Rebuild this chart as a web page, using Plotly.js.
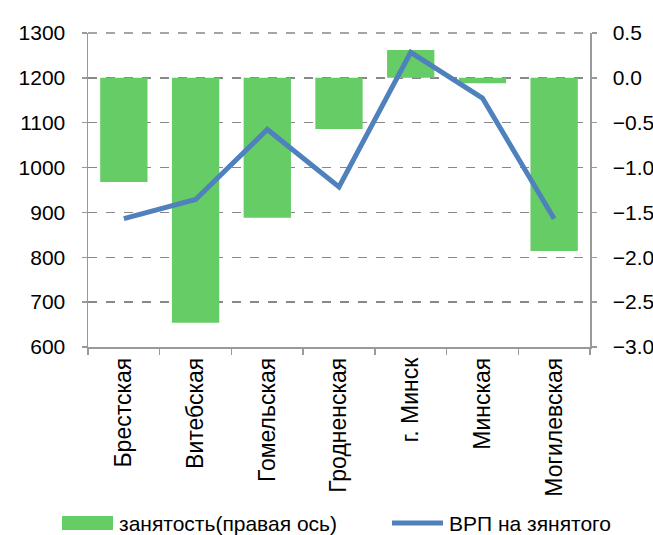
<!DOCTYPE html>
<html>
<head>
<meta charset="utf-8">
<script src="https://cdn.plot.ly/plotly-3.0.1.min.js"></script>
<style>html,body{margin:0;padding:0;background:#fff;}#chart{width:653px;height:535px;}</style>
</head>
<body>
<div id="chart"></div>
<script>
const categories = ["Брестская", "Витебская", "Гомельская", "Гродненская", "г. Минск", "Минская", "Могилевская"];
const employment = [-1.16, -2.73, -1.56, -0.57, 0.31, -0.06, -1.93];
const grpPerEmployed = [886, 929, 1085, 957, 1257, 1155, 886];
const leftTicks = [600, 700, 800, 900, 1000, 1100, 1200, 1300];
const rightTicks = [-3.0, -2.5, -2.0, -1.5, -1.0, -0.5, 0.0, 0.5];
const seriesNames = ["занятость(правая ось)", "ВРП на зянятого"];

const FONT = "Liberation Sans, Arial, sans-serif";
const GREEN = "#66CC66", BLUE = "#4F81BD";
const traces = [
  {
    type: "bar", name: seriesNames[0], x: categories, y: employment,
    yaxis: "y", marker: {color: GREEN}, width: 0.66, showlegend: false
  },
  {
    type: "scatter", mode: "lines", name: seriesNames[1], x: categories, y: grpPerEmployed,
    yaxis: "y2", line: {color: BLUE, width: 5}, showlegend: false
  }
];
// custom legend placed in paper coordinates (plot area: x 88..590, y 33..347 px)
const ML = 88, MR = 63, MT = 33, MB = 188, W = 653, H = 535;
const PW = W - ML - MR, PH = H - MT - MB;
const px = v => (v - ML) / PW, py = v => (H - MB - v) / PH;
const layout = {
  width: W, height: H,
  margin: {l: ML, r: MR, t: MT, b: MB},
  paper_bgcolor: "#fff", plot_bgcolor: "#fff",
  font: {family: FONT, size: 21, color: "#000"},
  showlegend: false,
  xaxis: {
    type: "category", tickangle: -90, showline: true, linecolor: "#999", linewidth: 1.5,
    ticks: "outside", tickson: "boundaries", ticklen: 6, tickcolor: "#999", tickwidth: 1.5,
    showgrid: false, tickfont: {size: 23}, automargin: false
  },
  yaxis: {
    side: "right", range: [-3, 0.5], tickvals: rightTicks, tickformat: ".1f",
    showline: true, linecolor: "#999", linewidth: 1.5, ticks: "outside", ticklen: 5,
    tickcolor: "#999", tickwidth: 1.5, showgrid: true, gridcolor: "#888", gridwidth: 1.5,
    griddash: "dash", zeroline: false, tickfont: {size: 21}, ticklabelstandoff: 12, automargin: false
  },
  yaxis2: {
    overlaying: "y", side: "left", range: [600, 1300], tickvals: leftTicks,
    showline: true, linecolor: "#999", linewidth: 1.5, ticks: "outside", ticklen: 5,
    tickcolor: "#999", tickwidth: 1.5, showgrid: false, zeroline: false, tickfont: {size: 21},
    ticklabelstandoff: 12, automargin: false
  },
  shapes: [
    {type: "line", xref: "paper", yref: "paper", layer: "below",
     x0: 0, x1: 1, y0: 1, y1: 1, line: {color: "#888", width: 1.5, dash: "dash"}},
    {type: "rect", xref: "paper", yref: "paper",
     x0: px(62), x1: px(113), y0: py(530), y1: py(516), fillcolor: GREEN, line: {width: 0}},
    {type: "line", xref: "paper", yref: "paper",
     x0: px(392), x1: px(443), y0: py(523), y1: py(523), line: {color: BLUE, width: 5}}
  ],
  annotations: [
    {xref: "paper", yref: "paper", x: px(117), y: py(523), xanchor: "left", yanchor: "middle",
     text: seriesNames[0], showarrow: false, font: {size: 21}},
    {xref: "paper", yref: "paper", x: px(447), y: py(523), xanchor: "left", yanchor: "middle",
     text: seriesNames[1], showarrow: false, font: {size: 21}}
  ]
};
Plotly.newPlot("chart", traces, layout, {displayModeBar: false, staticPlot: true});
</script>
</body>
</html>
